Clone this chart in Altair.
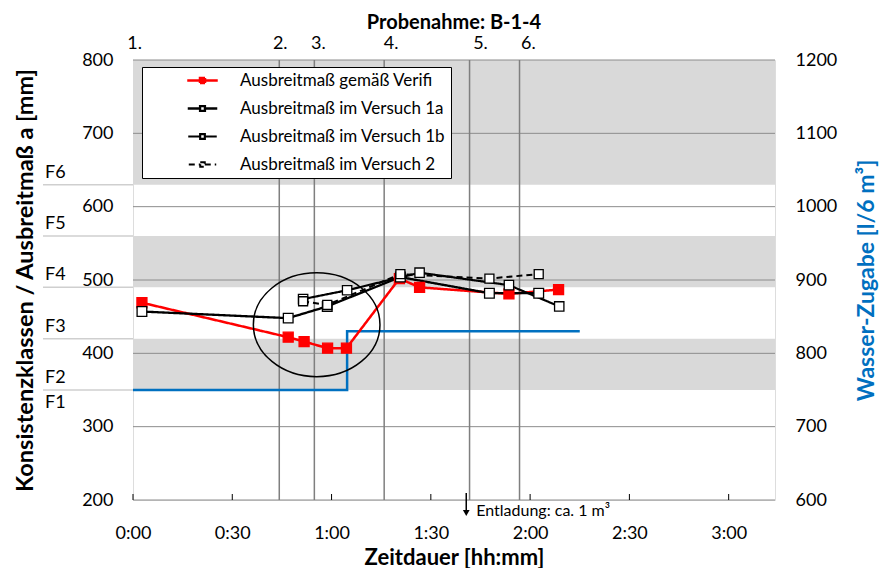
import altair as alt
import pandas as pd

# ---------------- data ----------------
chart_title = ["Probenahme: B-1-4"]

series_names = [
    "Ausbreitmaß gemäß Verifi",
    "Ausbreitmaß im Versuch 1a",
    "Ausbreitmaß im Versuch 1b",
    "Ausbreitmaß im Versuch 2",
]

verifi_min = [2.7, 46.9, 51.7, 58.8, 64.5, 80.5, 86.6, 113.6, 128.6]
verifi_mm = [469, 422, 416, 407, 407, 502, 490, 481, 487]

v1a_min = [2.7, 46.9, 58.7, 80.8, 107.7, 122.6]
v1a_mm = [457, 448, 464, 504, 482, 482]

v1b_min = [51.4, 64.7, 86.6, 113.6, 128.8]
v1b_mm = [474, 486, 510, 493, 464]

v2_min = [51.4, 58.7, 80.8, 107.7, 122.6]
v2_mm = [471, 466, 508, 502, 508]

water_min = [0, 64.7, 135]
water_l = [750, 830, 830]

class_names = ["F1", "F2", "F3", "F4", "F5", "F6"]
class_lo = [200, 350, 420, 490, 560, 630]
class_hi = [350, 420, 490, 560, 630, 800]
class_gray = [False, True, False, True, False, True]

sample_names = ["1.", "2.", "3.", "4.", "5.", "6."]
sample_label_min = [0.5, 44.5, 56.0, 78.0, 105.0, 119.5]
sample_line_min = [44.2, 54.8, 75.9, 101.7, 116.8]

left_ticks = [200, 300, 400, 500, 600, 700, 800]
right_ticks = [600, 700, 800, 900, 1000, 1100, 1200]
time_ticks = [0, 30, 60, 90, 120, 150, 180]

discharge_min = [100.7]
discharge_text = ["Entladung:  ca. 1 m³"]

ellipse_min = [55.5]
ellipse_mm = [439]

# ---------------- tables ----------------
series_df = pd.concat([
    pd.DataFrame({"s": series_names[0], "t": verifi_min, "v": verifi_mm}),
    pd.DataFrame({"s": series_names[1], "t": v1a_min, "v": v1a_mm}),
    pd.DataFrame({"s": series_names[2], "t": v1b_min, "v": v1b_mm}),
    pd.DataFrame({"s": series_names[3], "t": v2_min, "v": v2_mm}),
], ignore_index=True)
water_df = pd.DataFrame({"t": water_min, "w": water_l})
class_df = pd.DataFrame({"name": class_names, "lo": class_lo, "hi": class_hi, "gray": class_gray})
bands_df = class_df[class_df["gray"]]
upper_df = class_df[class_df["lo"] > min(class_lo)]
lowest_df = class_df[class_df["lo"] == min(class_lo)]
grid_df = pd.DataFrame({"v": left_ticks})
lines_df = pd.DataFrame({"t": sample_line_min})
labels_df = pd.DataFrame({"t": sample_label_min, "name": sample_names})
ticks_df = pd.DataFrame({"t": time_ticks})
disc_df = pd.DataFrame({"t": discharge_min, "txt": discharge_text})
ell_df = pd.DataFrame({"t": ellipse_min, "v": ellipse_mm})
title_df = pd.DataFrame({"txt": chart_title})

# ---------------- styling ----------------
W, H = 642, 440
FONT = "Lato"

x_scale = alt.Scale(domain=[0, 194], nice=False, zero=False)
w_scale = alt.Scale(domain=[600, 1200], nice=False, zero=False)


def ys():
    return alt.Scale(domain=[200, 800], nice=False, zero=False)


xaxis = alt.Axis(
    orient="bottom", values=time_ticks,
    labelExpr="floor(datum.value / 60) + ':' + (datum.value % 60 < 10 ? '0' : '') + (datum.value % 60)",
    title="Zeitdauer [hh:mm]", grid=False, ticks=False, domain=False,
    labelPadding=24, labelFontSize=18, labelFont=FONT, labelColor="#000",
    labelFlush=False, labelOverlap=False,
    titleFont=FONT, titleFontSize=22, titleFontWeight="bold", titleColor="#000",
    titleX=W / 2, titleY=57, titleBaseline="middle", titleAlign="center",
)
yaxis = alt.Axis(
    orient="left", values=left_ticks, title="Konsistenzklassen / Ausbreitmaß a [mm]",
    grid=False, ticks=False, domain=False, labelPadding=20, labelFontSize=18,
    labelFont=FONT, labelColor="#000", labelFlush=False, labelOverlap=False, format="d",
    titleFont=FONT, titleFontSize=23.5, titleFontWeight="bold", titleColor="#000",
    titleX=-108, titleY=H / 2, titleAngle=270, titleBaseline="middle", titleAlign="center",
)
raxis = alt.Axis(
    orient="right", values=right_ticks, title="Wasser-Zugabe [l/6 m³]",
    grid=False, ticks=False, domain=False, labelPadding=20, labelFontSize=18,
    labelFont=FONT, labelColor="#000", labelFlush=False, labelOverlap=False, format="d",
    titleFont=FONT, titleFontSize=23, titleFontWeight="bold", titleColor="#0070C0",
    titleX=91, titleY=H / 2, titleAngle=270, titleBaseline="middle", titleAlign="center",
)

LEG_PATH = "M-3.05,0H-0.5M0.5,0H3.05M-0.5,-0.5H0.5V0.5H-0.5Z"
legend = alt.Legend(
    title=None, orient="none", legendX=9, legendY=7,
    symbolType=LEG_PATH, symbolSize=324, symbolStrokeWidth=2,
    rowPadding=10, padding=5, symbolOffset=47, labelOffset=29,
    labelFontSize=17, labelFont=FONT, labelColor="#000", labelLimit=500,
    labelExpr="datum.label + '\u2003\u2003'",
    fillColor="#FFFFFF", strokeColor="#000000",
)

stroke_scale = alt.Scale(domain=series_names, range=["#FF0000", "#000000", "#000000", "#000000"])
fill_scale = alt.Scale(domain=series_names, range=["#FF0000", "#FFFFFF", "#FFFFFF", "#FFFFFF"])
dash_scale = alt.Scale(domain=series_names, range=[[1, 0], [1, 0], [1, 0], [6, 4]])
sw_scale = alt.Scale(domain=series_names, range=[2.5, 2, 1.5, 1.8])
size_scale = alt.Scale(domain=series_names, range=[100, 81, 49, 81])


def X():
    # every layer carries the same axis definition so the shared x axis merges cleanly
    return alt.X("t:Q", scale=x_scale, axis=xaxis)


def Y(field, axis=None):
    return alt.Y(field, scale=ys(), axis=axis)


# ---------------- background (left scale) ----------------
bands = alt.Chart(bands_df).mark_rect(color="#D9D9D9").encode(
    y=Y("lo:Q", yaxis), y2="hi:Q")
hgrid = alt.Chart(grid_df).mark_rule(color="#8C8C8C", strokeWidth=1).encode(y=Y("v:Q"))
xticks = alt.Chart(ticks_df).mark_rule(color="#000", strokeWidth=1).encode(
    x=X(), y=alt.value(H), y2=alt.value(H - 6))
vlines = alt.Chart(lines_df).mark_rule(color="#7F7F7F", strokeWidth=1.5).encode(x=X())
top_labels = alt.Chart(labels_df).mark_text(
    fontSize=18, font=FONT, color="#000", baseline="middle", align="center").encode(
    x=X(), y=alt.value(-16), text="name:N")
title_mark = alt.Chart(title_df).mark_text(
    fontSize=20, font=FONT, fontWeight="bold", color="#000",
    baseline="alphabetic", align="center").encode(
    x=alt.value(W / 2), y=alt.value(-31.5), text="txt:N")
separators = alt.Chart(upper_df).mark_rule(color="#CFCFCF", strokeWidth=1.5).encode(
    y=Y("lo:Q"), x=alt.value(-90), x2=alt.value(0))
f_upper = alt.Chart(upper_df).mark_text(
    fontSize=18, font=FONT, color="#000", align="left", baseline="bottom", dy=-3).encode(
    y=Y("lo:Q"), x=alt.value(-88), text="name:N")
f_lowest = alt.Chart(lowest_df).mark_text(
    fontSize=18, font=FONT, color="#000", align="left", baseline="top", dy=4).encode(
    y=Y("hi:Q"), x=alt.value(-88), text="name:N")

# ---------------- water (right scale) ----------------
water = alt.Chart(water_df).mark_line(
    color="#0070C0", strokeWidth=2.5, interpolate="step-after").encode(
    x=X(), y=alt.Y("w:Q", scale=w_scale, axis=raxis))

# ---------------- foreground (left scale) ----------------
lines = alt.Chart(series_df).mark_line().encode(
    x=X(), y=Y("v:Q"),
    stroke=alt.Stroke("s:N", scale=stroke_scale, legend=legend),
    strokeDash=alt.StrokeDash("s:N", scale=dash_scale, legend=legend),
    strokeWidth=alt.StrokeWidth("s:N", scale=sw_scale, legend=None),
)
points = alt.Chart(series_df).mark_point(shape="square", opacity=1, strokeWidth=1.3).encode(
    x=X(), y=Y("v:Q"),
    stroke=alt.Stroke("s:N", scale=stroke_scale, legend=None),
    fill=alt.Fill("s:N", scale=fill_scale, legend=legend),
    size=alt.Size("s:N", scale=size_scale, legend=None),
)
ellipse = alt.Chart(ell_df).mark_point(
    shape="M-1,0A1,0.82 0 1,1 1,0A1,0.82 0 1,1 -1,0Z", size=16030,
    filled=False, stroke="#000", strokeWidth=1.5, opacity=1).encode(
    x=X(), y=Y("v:Q"))
arrow_line = alt.Chart(disc_df).mark_rule(color="#000", strokeWidth=1.5).encode(
    x=X(), y=alt.value(H - 7), y2=alt.value(H + 11))
arrow_head = alt.Chart(disc_df).mark_point(
    shape="triangle-down", size=45, filled=True, color="#000", opacity=1).encode(
    x=X(), y=alt.value(H + 13))
disc_text = alt.Chart(disc_df).mark_text(
    fontSize=16, font=FONT, color="#000", align="left", baseline="middle", dx=10).encode(
    x=X(), y=alt.value(H + 11), text="txt:N")

chart = alt.layer(
    bands, hgrid, xticks, vlines, top_labels, title_mark, separators, f_upper, f_lowest,
    water,
    lines, points, ellipse, arrow_line, arrow_head, disc_text,
).resolve_scale(y="independent").properties(
    width=W, height=H,
    autosize=alt.AutoSizeParams(type="none"),
    padding={"left": 125, "top": 52, "right": 104, "bottom": 68},
).configure_view(stroke="#000", strokeWidth=2).configure(font=FONT)

chart.save("out.html", embed_options={"renderer": "svg", "actions": False})
